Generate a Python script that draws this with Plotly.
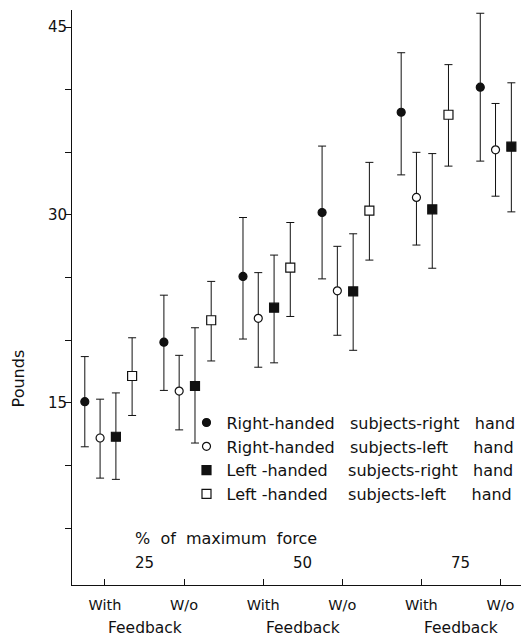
import plotly.graph_objects as go

# ---- data ----
conditions = ["With", "W/o", "With", "W/o", "With", "W/o"]
force_levels = ["25", "50", "75"]
feedback_label = "Feedback"

NB = "\u00a0"
series_names = [
    "Right-handed" + NB * 3 + "subjects-right" + NB * 3 + "hand",
    "Right-handed" + NB * 3 + "subjects-left" + NB * 5 + "hand",
    "Left" + NB + "-handed" + NB * 4 + "subjects-right" + NB * 3 + "hand",
    "Left" + NB + "-handed" + NB * 4 + "subjects-left" + NB * 5 + "hand",
]

rh_right_mean = [15.1, 19.85, 25.1, 30.2, 38.2, 40.2]
rh_right_upper = [18.7, 23.6, 29.8, 35.5, 42.95, 46.1]
rh_right_lower = [11.5, 16.0, 20.1, 24.9, 33.2, 34.3]

rh_left_mean = [12.2, 15.95, 21.75, 23.95, 31.4, 35.2]
rh_left_upper = [15.3, 18.8, 25.4, 27.5, 35.0, 38.9]
rh_left_lower = [9.0, 12.85, 17.85, 20.4, 27.6, 31.5]

lh_right_mean = [12.3, 16.35, 22.6, 23.9, 30.45, 35.45]
lh_right_upper = [15.8, 21.0, 26.8, 28.5, 34.9, 40.55]
lh_right_lower = [8.9, 11.8, 18.2, 19.2, 25.75, 30.25]

lh_left_mean = [17.15, 21.6, 25.8, 30.35, 38.0]
lh_left_upper = [20.2, 24.7, 29.4, 34.2, 42.0]
lh_left_lower = [14.0, 18.35, 21.9, 26.4, 33.9]

y_ticks = [5, 10, 15, 20, 25, 30, 35, 40, 45]
y_labels = ["", "", "15", "", "", "30", "", "", "45"]

# ---- styling ----
FONT = "DejaVu Sans"
INK = "#111111"
offsets = [-0.255, -0.062, 0.138, 0.343]
symbols = ["circle", "circle", "square", "square"]
fills = [INK, "white", INK, "white"]
sizes = [8, 8, 9, 9]

data = [
    (rh_right_mean, rh_right_upper, rh_right_lower),
    (rh_left_mean, rh_left_upper, rh_left_lower),
    (lh_right_mean, lh_right_upper, lh_right_lower),
    (lh_left_mean, lh_left_upper, lh_left_lower),
]

fig = go.Figure()
for k, (m, up, lo) in enumerate(data):
    xs = [i + offsets[k] for i in range(len(m))]
    fig.add_trace(go.Scatter(
        x=xs, y=m, mode="markers", name=series_names[k],
        cliponaxis=False,
        marker=dict(symbol=symbols[k], size=sizes[k], color=fills[k],
                    line=dict(color=INK, width=1.2)),
        error_y=dict(type="data", symmetric=False,
                     array=[u - v for u, v in zip(up, m)],
                     arrayminus=[v - l for v, l in zip(m, lo)],
                     color=INK, thickness=1, width=4),
    ))

annotations = []
for g in range(3):
    annotations.append(dict(x=2 * g + 0.5, y=0.019, xref="x", yref="paper",
                            text=force_levels[g], showarrow=False,
                            font=dict(family=FONT, size=15, color=INK)))
    annotations.append(dict(x=2 * g + 0.5, y=-0.094, xref="x", yref="paper",
                            text=feedback_label, showarrow=False,
                            font=dict(family=FONT, size=15.5, color=INK)))
annotations.append(dict(x=0.355, y=0.061, xref="x", yref="paper",
                        xanchor="left",
                        text="%" + NB * 2 + "of" + NB * 2 + "maximum" + NB * 2 + "force",
                        showarrow=False,
                        font=dict(family=FONT, size=16, color=INK)))
annotations.append(dict(x=-0.145, y=0.36, xref="paper", yref="paper",
                        text="Pounds", textangle=-90, showarrow=False,
                        font=dict(family=FONT, size=16, color=INK)))

fig.update_layout(
    width=521, height=637,
    margin=dict(l=72, r=0, t=10, b=52),
    paper_bgcolor="white", plot_bgcolor="white",
    font=dict(family=FONT, size=15, color=INK),
    showlegend=True,
    legend=dict(x=0.255, y=0.312, xanchor="left", yanchor="top",
                bgcolor="rgba(0,0,0,0)", font=dict(family=FONT, size=16, color=INK),
                itemwidth=30),
    xaxis=dict(range=[-0.417, 5.26], tickmode="array",
               tickvals=list(range(len(conditions))), ticktext=conditions,
               ticks="inside", ticklen=6, tickcolor=INK, showline=True,
               ticklabelstandoff=7,
               linecolor=INK, linewidth=1, showgrid=False, zeroline=False,
               tickfont=dict(family=FONT, size=14.5, color=INK)),
    yaxis=dict(range=[0.47, 46.36], tickmode="array", tickvals=y_ticks,
               ticktext=y_labels, ticks="outside", ticklen=6, tickcolor=INK,
               ticklabelstandoff=-5,
               showline=True, linecolor=INK, linewidth=1, showgrid=False,
               zeroline=False, tickfont=dict(family=FONT, size=15, color=INK)),
    annotations=annotations,
)

fig.write_html("out.html",
               config={"displayModeBar": False},
               post_script="document.body.style.margin='0';"
                           "document.body.style.overflow='hidden';")
